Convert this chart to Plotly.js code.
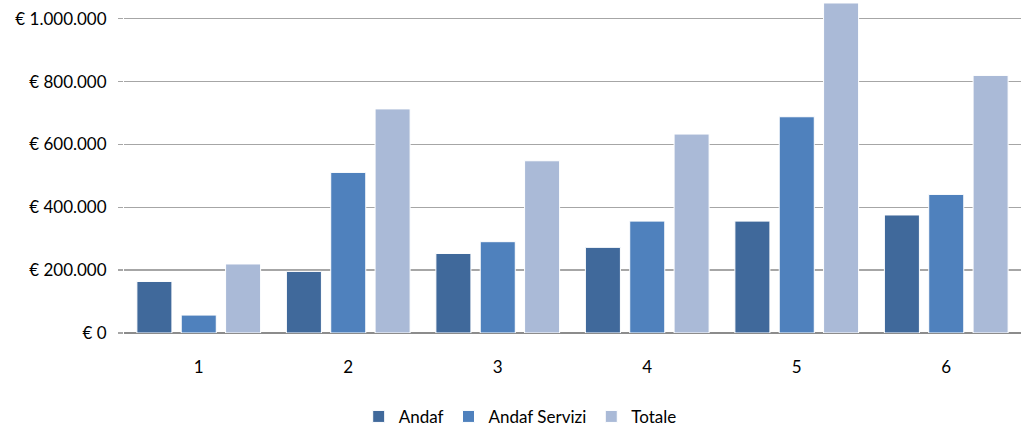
<!DOCTYPE html>
<html><head><meta charset="utf-8">
<script src="https://cdn.plot.ly/plotly-3.0.1.min.js"></script>
<style>html,body{margin:0;padding:0;background:#fff}#chart{width:1022px;height:428px}</style>
</head><body><div id="chart"></div>
<script>
const categories = ['1','2','3','4','5','6'];
const andaf = [164000, 196000, 253000, 272500, 356000, 375500];
const andafServizi = [57000, 511000, 290500, 356000, 688000, 441000];
const totale = [219600, 713000, 548000, 633000, 1050000, 819600];
const seriesNames = ['Andaf', 'Andaf Servizi', 'Totale'];
const tickValues = [0, 200000, 400000, 600000, 800000, 1000000];
const tickLabels = ['€ 0', '€ 200.000', '€ 400.000', '€ 600.000', '€ 800.000', '€ 1.000.000'];

const colors = ['#40699B', '#4F81BD', '#AABAD7'];
const data = [andaf, andafServizi, totale].map((vals, i) => ({
  type: 'bar', x: categories, y: vals, name: seriesNames[i],
  marker: {color: colors[i], line: {color: '#ffffff', width: 1}},
  cliponaxis: false, hoverinfo: 'none'
}));
const font = {family: 'Lato, "Open Sans", sans-serif', size: 17, color: '#000'};
const layout = {
  width: 1022, height: 428,
  margin: {l: 124, r: 1, t: 2, b: 95, autoexpand: false},
  paper_bgcolor: '#fff', plot_bgcolor: '#fff',
  font: font,
  barmode: 'group', bargap: 0.11, bargroupgap: 0.21,
  xaxis: {type: 'category', showgrid: false, zeroline: false, ticks: '', showline: false,
          tickfont: font, ticklabelstandoff: 22, automargin: false},
  yaxis: {range: [0, 1053150], tickvals: tickValues, ticktext: tickLabels,
          showgrid: true, gridcolor: '#A6A6A6', gridwidth: 1.3,
          zeroline: true, zerolinecolor: '#8C8C8C', zerolinewidth: 2,
          ticks: 'outside', ticklen: 5, tickcolor: '#A6A6A6', tickwidth: 1.3,
          showline: false, tickfont: font, ticklabelstandoff: 8, automargin: false},
  legend: {orientation: 'h', xref: 'container', yref: 'container',
           x: 0.509, xanchor: 'center', y: 0.026, yanchor: 'middle',
           font: font, itemwidth: 30, traceorder: 'normal'},
  showlegend: true
};
Plotly.newPlot('chart', data, layout, {staticPlot: true});
</script></body></html>
